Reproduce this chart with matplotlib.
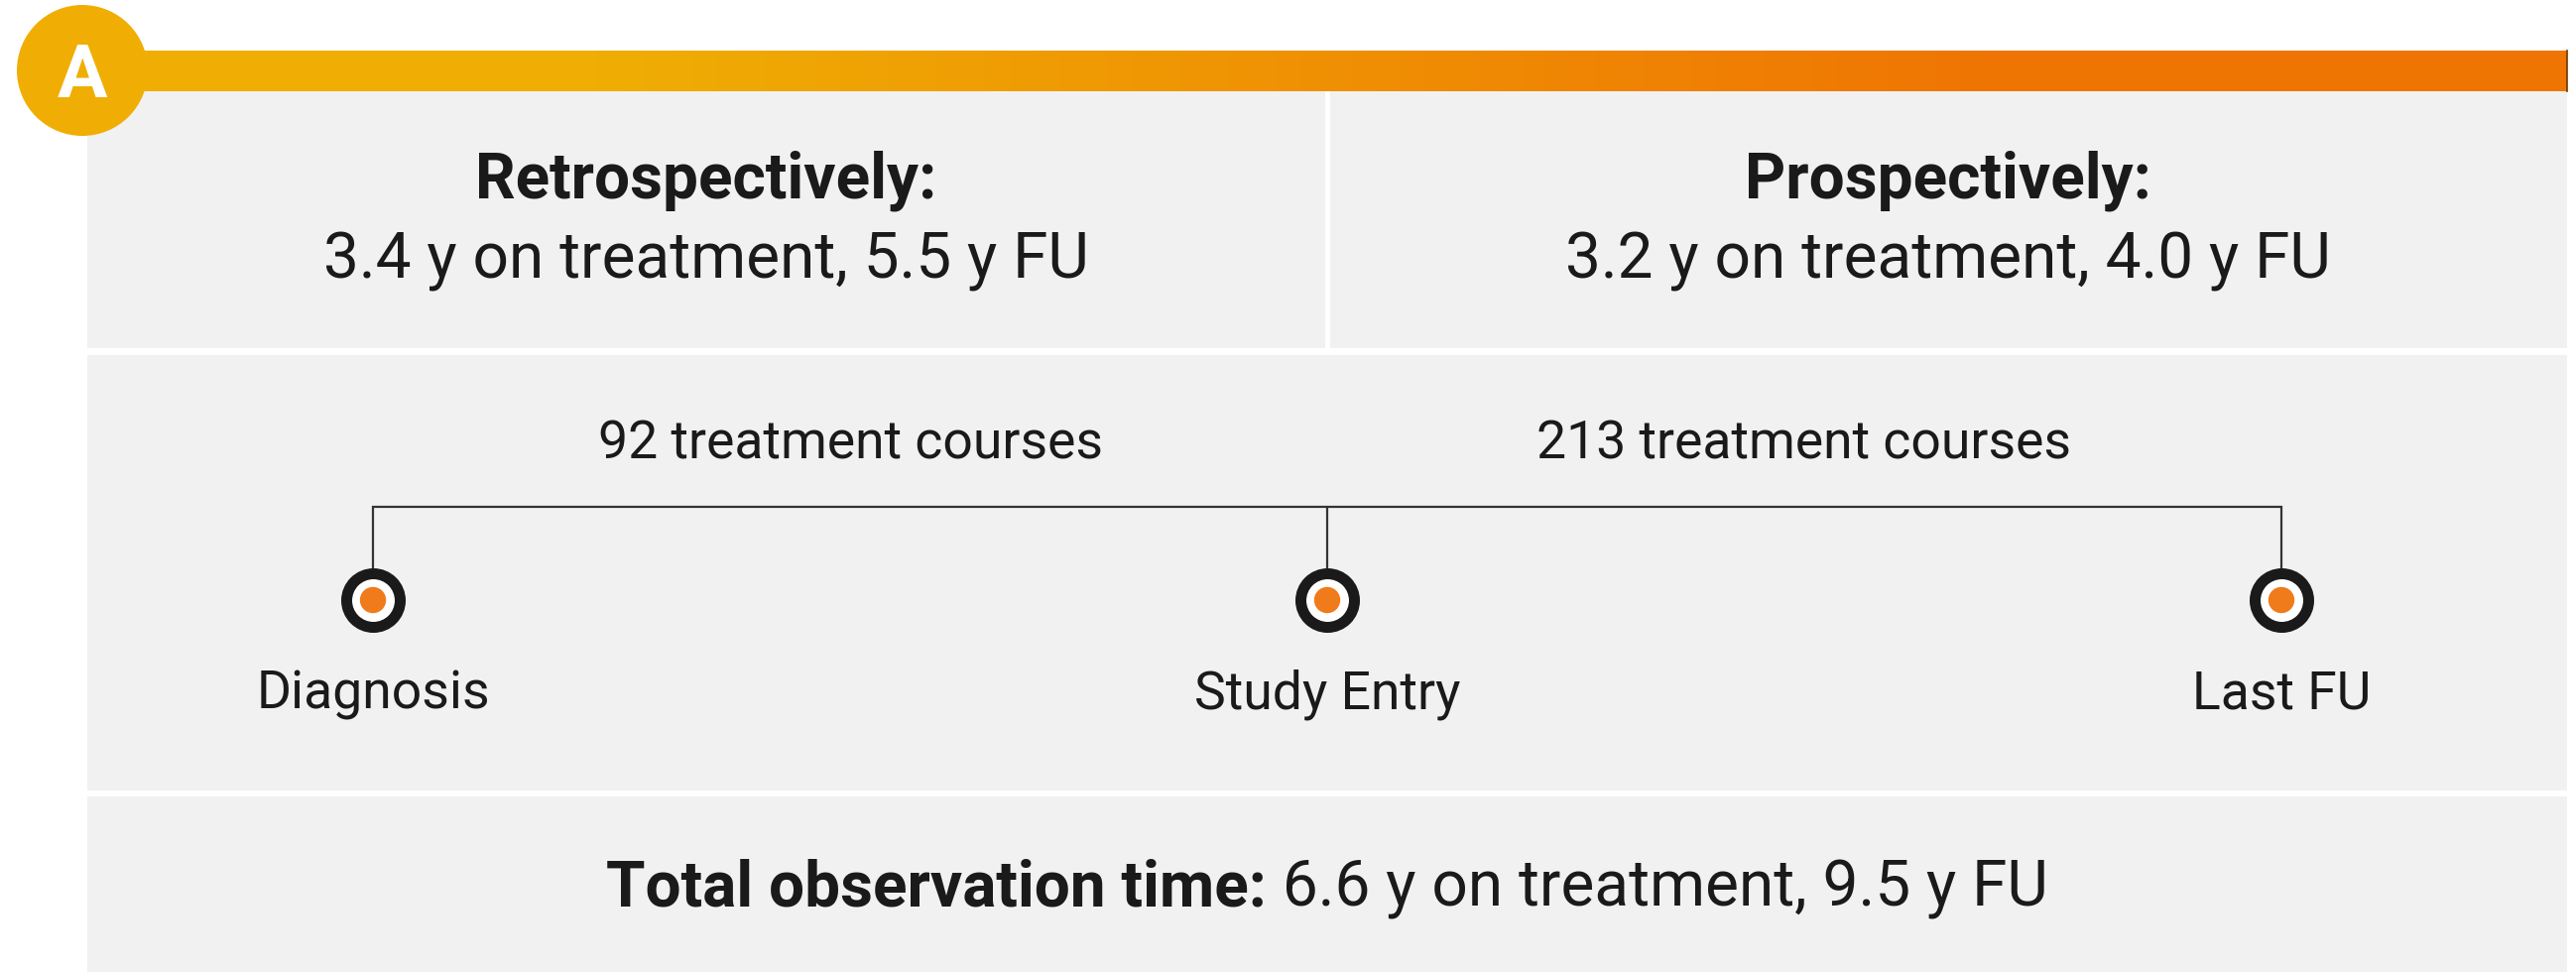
import numpy as np
import matplotlib
matplotlib.use('Agg')
import matplotlib.pyplot as plt
from matplotlib.patches import Circle, Rectangle

plt.rcParams['font.family'] = ['Roboto', 'DejaVu Sans']

# ---- data ----
PANEL_LABEL = 'A'
PERIODS = ['Retrospectively:', 'Prospectively:']
ON_TREATMENT = [3.4, 3.2]      # years on treatment
FOLLOW_UP = [5.5, 4.0]         # years follow-up
EVENTS = ['Diagnosis', 'Study Entry', 'Last FU']
COURSES = [92, 213]            # treatment courses between consecutive events
TOTAL_TREATMENT = 6.6
TOTAL_FU = 9.5

# ---- style ----
W, H = 2597, 980
GRAY = '#f1f1f1'
TXT = '#1a1a1a'
RING = '#1a1a1a'
DOT = '#f07b1b'
YEL = np.array([240, 174, 4]) / 255
ORA = np.array([239, 117, 3]) / 255
FS_BIG = 46
FS_MID = 38.5

fig = plt.figure(figsize=(W / 100, H / 100), dpi=100)
fig.patch.set_facecolor('white')
ax = fig.add_axes([0, 0, 1, 1])
ax.set_xlim(0, W)
ax.set_ylim(H, 0)
ax.axis('off')

# panel background + white separators
ax.add_patch(Rectangle((88, 92), 2500, H - 92, fc=GRAY, ec='none', zorder=1))
ax.add_patch(Rectangle((88, 351), 2500, 7, fc='white', ec='none', zorder=2))
ax.add_patch(Rectangle((88, 797), 2500, 6, fc='white', ec='none', zorder=2))
ax.add_patch(Rectangle((1336, 92), 5, 259, fc='white', ec='none', zorder=2))

# gradient header bar
xs = np.arange(120, 2588)
frac = np.clip((xs - 600) / 1400, 0, 1)[:, None]
grad = (YEL * (1 - frac) + ORA * frac)[None, :, :]
ax.imshow(grad, extent=[120, 2588, 92, 51], aspect='auto', zorder=3,
          interpolation='bilinear')
ax.plot([2587.5, 2587.5], [51, 92], color='#6b3a00', lw=1.2, zorder=4)
ax.set_xlim(0, W)
ax.set_ylim(H, 0)

# panel letter
ax.add_patch(Circle((83, 71), 66, fc='#f0ae04', ec='none', zorder=5))
ax.text(83, 71, PANEL_LABEL, color='white', fontsize=54, fontweight='bold',
        ha='center', va='center_baseline', zorder=6)

# top: retrospective / prospective summaries
for cx, per, tr, fu in zip([712, 1964], PERIODS, ON_TREATMENT, FOLLOW_UP):
    ax.text(cx, 199, per, fontsize=FS_BIG, fontweight='bold', color=TXT,
            ha='center', va='baseline', zorder=6)
    ax.text(cx, 280, f'{tr:.1f} y on treatment, {fu:.1f} y FU', fontsize=FS_BIG,
            color=TXT, ha='center', va='baseline', zorder=6)

# timeline in its own axes: event index on x
tl = fig.add_axes([88 / W, 0, 2500 / W, 1])
tl.set_xlim(-0.2994, 2.2994)
tl.set_ylim(H, 0)
tl.axis('off')
idx = np.arange(len(EVENTS))
tl.plot([idx[0], idx[0], idx[-1], idx[-1]], [573, 511, 511, 573],
        color='#333333', lw=1.6, zorder=3, solid_joinstyle='miter')
tl.vlines(idx[1:-1], 511, 573, color='#333333', lw=1.6, zorder=3)
tl.scatter(idx, [605] * len(idx), s=(2 * 27) ** 2 * 0.5184, facecolor='white',
           edgecolor=RING, linewidth=11 * 0.72, zorder=4)
tl.scatter(idx, [605] * len(idx), s=(2 * 13.2 * 0.72) ** 2, color=DOT,
           edgecolor='none', zorder=5)
for i, name in enumerate(EVENTS):
    tl.text(i, 714, name, fontsize=FS_MID, color=TXT, ha='center',
            va='baseline', zorder=6)
for i, n in enumerate(COURSES):
    tl.text(i + 0.5, 462, f'{n} treatment courses', fontsize=FS_MID, color=TXT,
            ha='center', va='baseline', zorder=6)

# bottom: total observation time (bold lead + regular rest, centred together)
r = fig.canvas.get_renderer()
t1 = ax.text(0, 913, 'Total observation time:', fontsize=FS_BIG, fontweight='bold',
             color=TXT, ha='left', va='baseline', zorder=6)
t2 = ax.text(0, 913, f' {TOTAL_TREATMENT:.1f} y on treatment, {TOTAL_FU:.1f} y FU',
             fontsize=FS_BIG, color=TXT, ha='left', va='baseline', zorder=6)
w1 = t1.get_window_extent(r).width
w2 = t2.get_window_extent(r).width
x0 = 1338 - (w1 + w2) / 2
t1.set_x(x0)
t2.set_x(x0 + w1)

fig.savefig('out.png', dpi=100, facecolor='white')
